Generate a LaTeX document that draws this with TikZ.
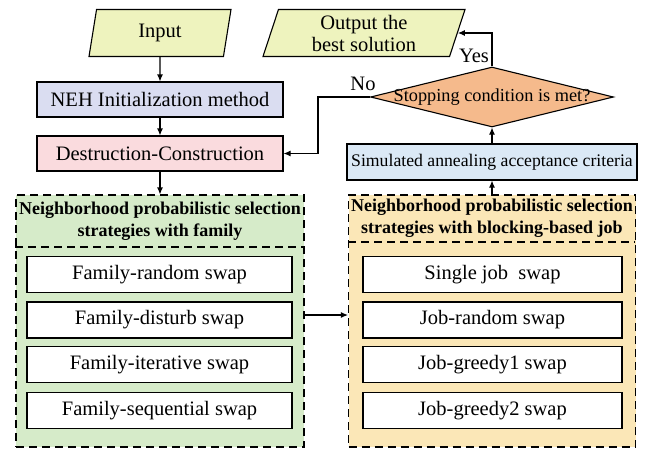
\documentclass[tikz,border=0pt]{standalone}
\usepackage{fontspec}
\setmainfont{Liberation Serif}
\usetikzlibrary{shapes.geometric,arrows.meta}
\definecolor{iofill}{RGB}{238,243,190}
\definecolor{nehfill}{RGB}{218,221,241}
\definecolor{desfill}{RGB}{250,219,222}
\definecolor{condfill}{RGB}{245,186,140}
\definecolor{simfill}{RGB}{219,233,246}
\definecolor{famfill}{RGB}{214,235,201}
\definecolor{blkfill}{RGB}{251,231,183}
\begin{document}
\begin{tikzpicture}[x=1pt, y=-1pt, font=\fontsize{20.5}{22}\selectfont, line width=1.1pt,
		box/.style={draw, rectangle, inner sep=0pt, minimum height=35pt},
		iobox/.style={draw, fill=iofill, trapezium, trapezium left angle=67, trapezium right angle=113,
			trapezium stretches body, inner sep=0pt, minimum height=47pt, align=center},
		group/.style={draw, rectangle, dash pattern=on 8pt off 5pt, inner sep=0pt, minimum height=252pt},
		head/.style={font=\fontsize{18}{22}\selectfont\bfseries, align=center},
		arr/.style={-{Latex[length=7pt,width=6pt]}}]
	\useasboundingbox (0,0) rectangle (646,448);
	% top part
	\node[iobox, minimum width=142pt] (inp) at (160,33) {Input};
	\node[iobox, minimum width=202pt] (out) at (364,33) {Output the\\best solution};
	\node[box, fill=nehfill, minimum width=246pt] (neh) at (160,99.5) {NEH Initialization method};
	\node[box, fill=desfill, minimum width=246pt] (des) at (160,153.5) {Destruction-Construction};
	\node[draw, diamond, fill=condfill, inner sep=0pt, minimum width=243pt, minimum height=60pt,
		font=\fontsize{18.3}{20}\selectfont] (cond) at (492,97) {\makebox[0pt]{Stopping condition is met?}};
	\node[box, fill=simfill, minimum width=290pt, minimum height=36pt, font=\fontsize{17.7}{20}\selectfont] (sim) at (492,162) {Simulated annealing acceptance criteria};
	% the two groups of swaps
	\node[group, fill=famfill, minimum width=288pt] (fam) at (160,321) {};
	\node[group, fill=blkfill, minimum width=287pt] (blk) at (492,321) {};
	\draw[dash pattern=on 8pt off 5pt] (15,247) -- (303,247);
	\draw[dash pattern=on 8pt off 5pt] (348,242) -- (635,242);
	\node[head] (famhead) at (160,221) {Neighborhood probabilistic selection\\strategies with family};
	\node[head] (blkhead) at (492,218) {Neighborhood probabilistic selection\\strategies with blocking-based job};
	\foreach \i/\y/\t in {1/274.5/Family-random swap, 2/320/Family-disturb swap, 3/364.5/Family-iterative swap, 4/410.5/Family-sequential swap}
		\node[box, fill=white, minimum width=265pt, minimum height=36pt] (f\i) at (159.5,\y) {\t};
	\foreach \i/\y/\t in {1/274.5/Single job~ swap, 2/320/Job-random swap, 3/364.5/Job-greedy1 swap, 4/410.5/Job-greedy2 swap}
		\node[box, fill=white, minimum width=259pt, minimum height=36pt] (b\i) at (492.5,\y) {\t};
	% connectors
	\coordinate (mid) at (325,315);
	\draw[arr] (inp) -- (neh);
	\draw[arr] (neh) -- (des);
	\draw[arr] (des) -- (fam);
	\draw[arr] (fam.east |- mid) -- (blk.west |- mid);
	\draw[arr] (blk) -- (sim);
	\draw[arr] (sim) -- (cond);
	\draw[arr] (cond.north) |- (out.east);
	\draw[arr] (cond.west) -- ++(-52,0) |- (des.east);
	\node (yes) at (474,56) {Yes};
	\node (no) at (363,84) {No};
\end{tikzpicture}
\end{document}
